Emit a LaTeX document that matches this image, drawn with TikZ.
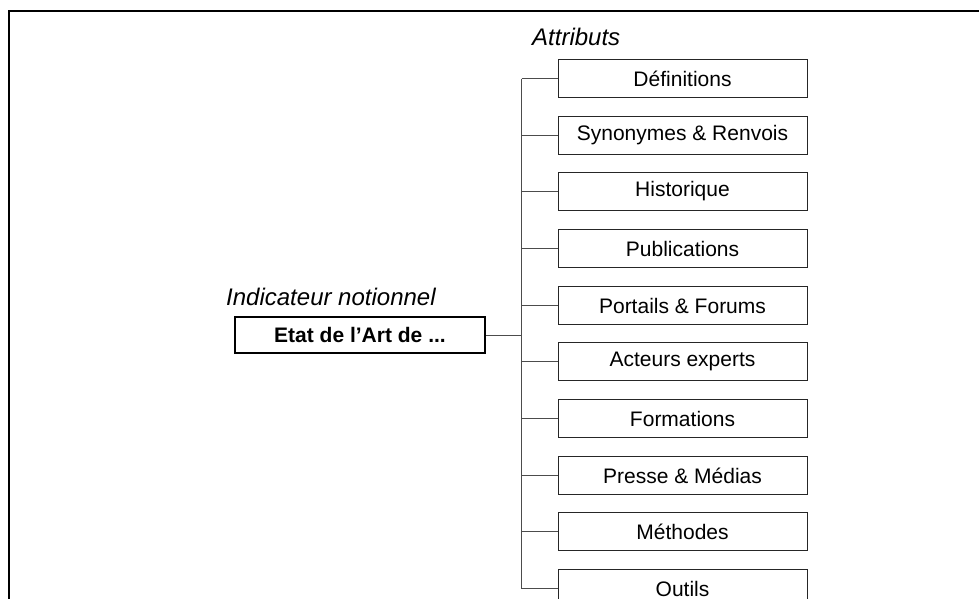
\documentclass[tikz,border=0pt]{standalone}
\usepackage{fontspec}
\setmainfont{Liberation Sans}
\begin{document}
\begin{tikzpicture}[x=1pt,y=-1pt,
  attrbox/.style={draw=black!85,line width=1pt,minimum width=249pt,minimum height=38pt,inner sep=0pt,font=\fontsize{21}{25}\selectfont},
  mainbox/.style={draw=black,line width=2pt,minimum width=250pt,minimum height=36pt,inner sep=0pt,font=\fontsize{21}{25}\selectfont\bfseries},
  lbl/.style={inner sep=0pt,anchor=base west,font=\fontsize{24}{28}\selectfont\itshape},
  conn/.style={draw=black!70,line width=1pt}]
\useasboundingbox (0,0) rectangle (979,598);
\clip (0,0) rectangle (979,598);
\fill[white] (0,0) rectangle (979,598);
\draw[line width=1.6pt,black] (9,620) -- (9,11) -- (1000,11);

\node[lbl] (attr) at (532,45) {Attributs};
\node[lbl] (ind) at (226,305) {Indicateur notionnel};
\node[mainbox] (main) at (360,335) {Etat de l’Art de ...};

\coordinate (bus) at (521.5,335);
\foreach \i/\y/\t in {1/78/Définitions,2/135/Synonymes \& Renvois,3/191/Historique,4/248/Publications,5/305/Portails \& Forums,6/361/Acteurs experts,7/418/Formations,8/475/Presse \& Médias,9/531/Méthodes,10/588/Outils}{
  \node[attrbox] (a\i) at (682.5,\y.5) {\t};
  \coordinate (b\i) at (521.5,\y.5);
  \draw[conn] (b\i) -- (a\i.west);
}
\draw[conn] (b1) -- (b10);
\draw[conn] (main.east) -- (bus);
\end{tikzpicture}
\end{document}
